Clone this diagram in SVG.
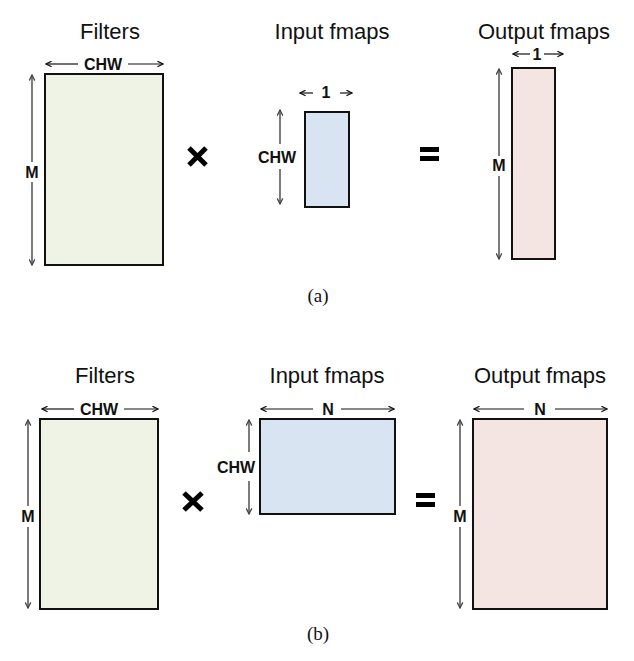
<svg xmlns="http://www.w3.org/2000/svg" width="634" height="661" viewBox="0 0 634 661">
<defs>
<marker id="ah" viewBox="0 0 10 10" refX="9" refY="5" markerWidth="7" markerHeight="7" markerUnits="userSpaceOnUse" orient="auto-start-reverse">
<path d="M1,1 L9,5 L1,9" fill="none" stroke="#111" stroke-width="1.8"/>
</marker>
<marker id="av" viewBox="0 0 10 10" refX="9" refY="5" markerWidth="7" markerHeight="7" markerUnits="userSpaceOnUse" orient="auto-start-reverse">
<path d="M1,1 L9,5 L1,9" fill="none" stroke="#444" stroke-width="1.8"/>
</marker>
</defs>
<style>
.title{font-family:"Liberation Sans",Arial,sans-serif;font-size:22px;fill:#111;text-anchor:middle}
.dim{font-family:"Liberation Sans",Arial,sans-serif;font-size:16px;font-weight:bold;fill:#111;text-anchor:middle}
.cap{font-family:"Liberation Serif","Times New Roman",serif;font-size:19px;fill:#111;text-anchor:middle}
.box{stroke:#111;stroke-width:2}
.h{stroke:#111;stroke-width:1.2;fill:none}
.v{stroke:#444;stroke-width:1.4;fill:none}
.op{stroke:#000;stroke-width:5;stroke-linecap:butt}
</style>
<rect width="634" height="661" fill="#fff"/>

<g id="panel-a">
<g id="a-filters">
<text class="title" x="110" y="39">Filters</text>
<rect class="box" x="45" y="74" width="118" height="191" fill="#eff3e6"/>
<text class="dim" x="103" y="70">CHW</text>
<text class="dim" x="32" y="178">M</text>
</g>
<g id="a-times">
<line class="op" x1="189" y1="148" x2="206" y2="165"/>
<line class="op" x1="206" y1="148" x2="189" y2="165"/>
</g>
<g id="a-input">
<text class="title" x="332" y="39">Input fmaps</text>
<rect class="box" x="305" y="112" width="44" height="95" fill="#d9e4f2"/>
<text class="dim" x="326" y="98">1</text>
<text class="dim" x="277" y="163">CHW</text>
</g>
<g id="a-equals">
<line class="op" x1="420" y1="149.5" x2="439" y2="149.5"/>
<line class="op" x1="420" y1="158.5" x2="439" y2="158.5"/>
</g>
<g id="a-output">
<text class="title" x="544" y="39">Output fmaps</text>
<rect class="box" x="512" y="68" width="43" height="191" fill="#f4e4e2"/>
<text class="dim" x="537" y="60">1</text>
<text class="dim" x="499" y="171">M</text>
</g>
<text class="cap" x="318" y="302">(a)</text>
</g>

<g id="panel-b">
<g id="b-filters">
<text class="title" x="105" y="383">Filters</text>
<rect class="box" x="40" y="419" width="118" height="190" fill="#eff3e6"/>
<text class="dim" x="99" y="415">CHW</text>
<text class="dim" x="28" y="522">M</text>
</g>
<g id="b-times">
<line class="op" x1="184" y1="493" x2="202" y2="510"/>
<line class="op" x1="202" y1="493" x2="184" y2="510"/>
</g>
<g id="b-input">
<text class="title" x="327" y="383">Input fmaps</text>
<rect class="box" x="260" y="419" width="135" height="95" fill="#d9e4f2"/>
<text class="dim" x="328" y="415">N</text>
<text class="dim" x="236" y="473">CHW</text>
</g>
<g id="b-equals">
<line class="op" x1="416" y1="495.5" x2="435" y2="495.5"/>
<line class="op" x1="416" y1="504.5" x2="435" y2="504.5"/>
</g>
<g id="b-output">
<text class="title" x="540" y="383">Output fmaps</text>
<rect class="box" x="473" y="419" width="134" height="190" fill="#f4e4e2"/>
<text class="dim" x="540" y="415">N</text>
<text class="dim" x="460" y="522">M</text>
</g>
<text class="cap" x="318" y="640">(b)</text>
</g>

<g id="connectors">
<line class="h" x1="78" y1="64" x2="46" y2="64" marker-end="url(#ah)"/>
<line class="h" x1="128" y1="64" x2="163" y2="64" marker-end="url(#ah)"/>
<line class="v" x1="32" y1="162" x2="32" y2="75" marker-end="url(#av)"/>
<line class="v" x1="32" y1="182" x2="32" y2="265" marker-end="url(#av)"/>
<line class="h" x1="313" y1="93" x2="300" y2="93" marker-end="url(#ah)"/>
<line class="h" x1="340" y1="93" x2="352" y2="93" marker-end="url(#ah)"/>
<line class="v" x1="280" y1="144" x2="280" y2="110" marker-end="url(#av)"/>
<line class="v" x1="280" y1="169" x2="280" y2="204" marker-end="url(#av)"/>
<line class="h" x1="530" y1="54" x2="513" y2="54" marker-end="url(#ah)"/>
<line class="h" x1="544" y1="54" x2="563" y2="54" marker-end="url(#ah)"/>
<line class="v" x1="499" y1="156" x2="499" y2="69" marker-end="url(#av)"/>
<line class="v" x1="499" y1="176" x2="499" y2="259" marker-end="url(#av)"/>
<line class="h" x1="74" y1="409" x2="42" y2="409" marker-end="url(#ah)"/>
<line class="h" x1="124" y1="409" x2="158" y2="409" marker-end="url(#ah)"/>
<line class="v" x1="28" y1="506" x2="28" y2="420" marker-end="url(#av)"/>
<line class="v" x1="28" y1="527" x2="28" y2="608" marker-end="url(#av)"/>
<line class="h" x1="313" y1="409" x2="261" y2="409" marker-end="url(#ah)"/>
<line class="h" x1="341" y1="409" x2="394" y2="409" marker-end="url(#ah)"/>
<line class="v" x1="249" y1="452" x2="249" y2="420" marker-end="url(#av)"/>
<line class="v" x1="249" y1="481" x2="249" y2="514" marker-end="url(#av)"/>
<line class="h" x1="524" y1="409" x2="474" y2="409" marker-end="url(#ah)"/>
<line class="h" x1="555" y1="409" x2="607" y2="409" marker-end="url(#ah)"/>
<line class="v" x1="460" y1="506" x2="460" y2="420" marker-end="url(#av)"/>
<line class="v" x1="460" y1="527" x2="460" y2="608" marker-end="url(#av)"/>
</g>
</svg>
